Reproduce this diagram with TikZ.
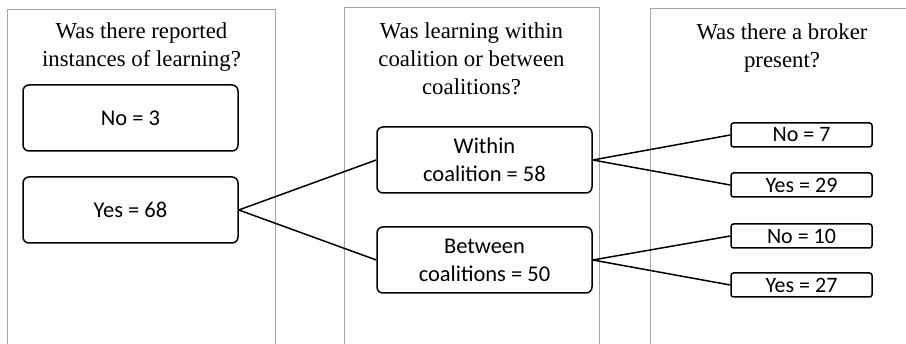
\documentclass[tikz,border=0pt]{standalone}
\usepackage{fontspec}
\setmainfont{Liberation Serif}
\newfontfamily\boxfont{Carlito}
\begin{document}
\begin{tikzpicture}[x=1pt,y=-1pt,
  panel/.style={draw=black!35,line width=1pt},
  question/.style={anchor=base,align=center,font=\fontsize{22.8}{28}\selectfont,inner sep=0pt},
  bigbox/.style={draw,line width=1.5pt,rounded corners=6pt,minimum width=215pt,minimum height=66pt,
    align=center,inner sep=0pt,font=\boxfont\fontsize{22.5}{28}\selectfont},
  smallbox/.style={draw,line width=1.5pt,rounded corners=2.5pt,minimum width=141pt,minimum height=24pt,
    inner sep=0pt,font=\boxfont\fontsize{22}{24}\selectfont},
  link/.style={line width=1.5pt}]
\useasboundingbox (0,0) rectangle (906,344);
\begin{scope}
\clip (0,0) rectangle (906,344);
% column frames, open at the bottom
\draw[panel] (7,10) rectangle (275,360);
\draw[panel] (344,8) rectangle (599,360);
\draw[panel] (650,9) rectangle (916,360);
\end{scope}

% column questions (base anchor sits on the last line)
\node[question] (q1) at (141.5,67) {Was there reported\\instances of learning?};
\node[question] (q2) at (471.5,95) {Was learning within\\coalition or between\\coalitions?};
\node[question] (q3) at (782,68) {Was there a broker\\present?};

% first level
\node[bigbox] (no3) at (130.5,118) {No = 3};
\node[bigbox] (yes68) at (130.5,210) {Yes = 68};

% second level
\node[bigbox] (within) at (484.5,160) {Within\\coalition = 58};
\node[bigbox] (between) at (484.5,260) {Between\\coalitions = 50};

% third level
\node[smallbox] (no7) at (801.5,135) {No = 7};
\node[smallbox] (yes29) at (801.5,185) {Yes = 29};
\node[smallbox] (no10) at (801.5,236) {No = 10};
\node[smallbox] (yes27) at (801.5,285) {Yes = 27};

% branches
\draw[link] (yes68.east) -- (within.west);
\draw[link] (yes68.east) -- (between.west);
\draw[link] (within.east) -- (no7.west);
\draw[link] (within.east) -- (yes29.west);
\draw[link] (between.east) -- (no10.west);
\draw[link] (between.east) -- (yes27.west);
\end{tikzpicture}
\end{document}
